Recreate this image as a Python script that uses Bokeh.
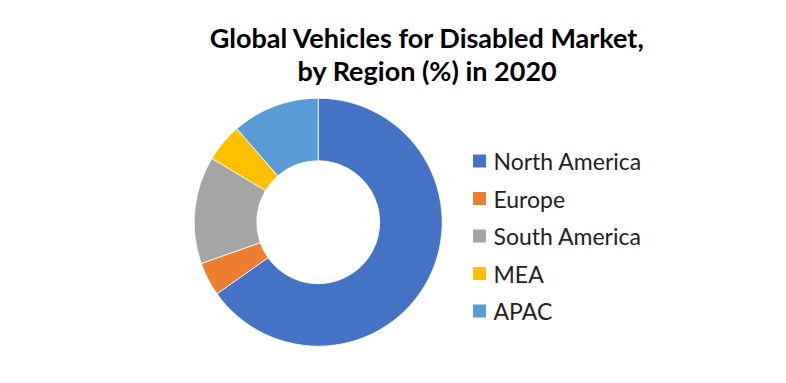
import math
from bokeh.plotting import figure
from bokeh.models import Range1d, ColumnDataSource
from bokeh.core.properties import value
from bokeh.embed import file_html
from bokeh.resources import INLINE

categories = ["North America", "Europe", "South America", "MEA", "APAC"]
shares = [65.2, 4.4, 14.0, 5.0, 11.4]
colors = ["#4472C4", "#ED7D31", "#A5A5A5", "#FFC000", "#5B9BD5"]
title_lines = ["Global Vehicles for Disabled Market,", "by Region (%) in 2020"]

W, H = 786, 383
p = figure(width=W, height=H, output_backend="svg", toolbar_location=None,
           x_range=Range1d(0, W), y_range=Range1d(0, H), min_border=0)
p.axis.visible = False
p.grid.visible = False
p.outline_line_color = None
p.background_fill_color = "white"

def Y(img_y):
    return H - img_y

def X(img_x):
    return img_x

total = sum(shares)
starts, ends = [], []
cum = 0.0
for s in shares:
    a0 = cum / total * 2 * math.pi
    cum += s
    a1 = cum / total * 2 * math.pi
    starts.append(math.pi / 2 - a1)
    ends.append(math.pi / 2 - a0)

src = ColumnDataSource(dict(start=starts, end=ends, color=colors, cat=categories))
p.annular_wedge(x=X(317.7), y=Y(221.7), inner_radius=61.5, outer_radius=124,
                start_angle="start", end_angle="end", fill_color="color",
                line_color="white", line_width=0.8, source=src)

# legend
ly = [Y(160.5 + 37.5 * i) for i in range(len(categories))]
p.rect(x=[X(479)] * len(categories), y=ly, width=13, height=13,
       fill_color=colors, line_color=None)
p.text(x=[X(493)] * len(categories), y=ly, text=categories,
       text_font=value("Lato"), text_font_size="23px", text_color="#222222",
       text_baseline="middle", text_align="left")

# title
p.text(x=[X(427), X(427)], y=[Y(37), Y(70)], text=title_lines,
       text_font=value("Lato"), text_font_size="27px", text_font_style="bold",
       text_color="black", text_align="center", text_baseline="alphabetic")

open("out.html", "w").write(file_html(p, INLINE))
